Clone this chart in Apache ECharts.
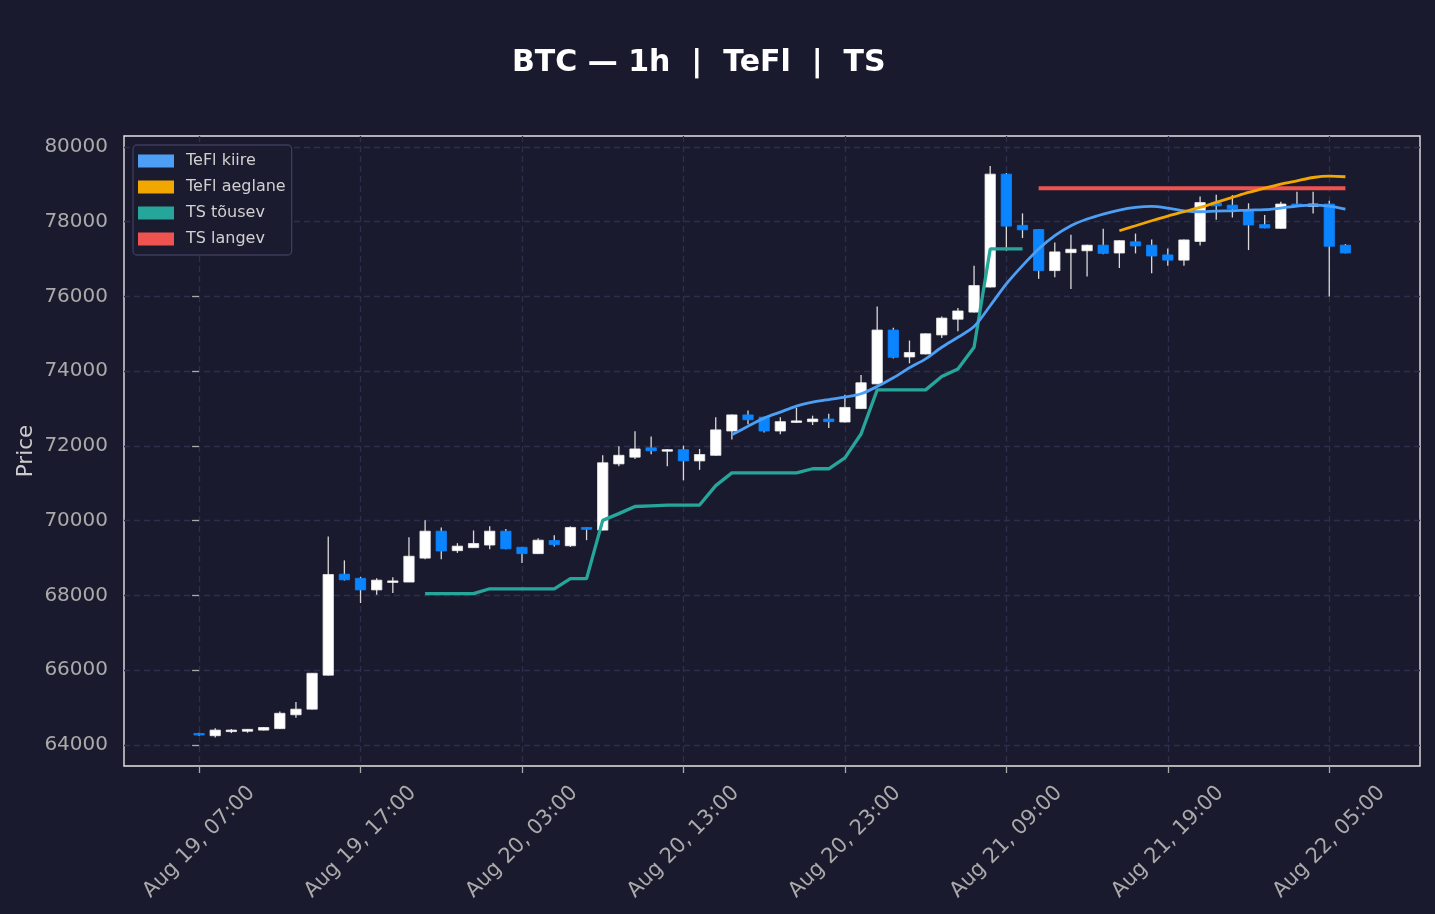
<!doctype html>
<html lang="et">
  <head>
    <meta charset="UTF-8" />
    <title>BTC — 1h | TeFl | TS</title>
    <style>
      html,
      body {
        width: 100%;
        height: 100%;
        margin: 0;
        padding: 0;
        background: #1a1a2e;
      }
      #chart {
        width: 1435px;
        height: 914px;
      }
    </style>
  </head>
  <body>
    <div id="chart"></div>
    <script src="https://cdn.jsdelivr.net/npm/echarts@6/dist/echarts.min.js"></script>
    <script>
      // tunnikünlad, Aug 19 07:00 ... Aug 22 06:00 (indeks = tund algusest)
      const opens = [
        64310, 64250, 64360, 64370, 64400, 64440, 64810, 64960, 65870, 68570,
        68460, 68150, 68370, 68360, 69000, 69720, 69200, 69280, 69350, 69720,
        69290, 69120, 69470, 69330, 69820, 69750, 71520, 71700, 71950, 71880,
        71900, 71600, 71750, 72400, 72830, 72770, 72400, 72630, 72650, 72720,
        72640, 73000, 73660, 75100, 74380, 74460, 74970, 75390, 75580, 76250,
        79270, 77900, 77790, 76690, 77170, 77220, 77370, 77160, 77460, 77370,
        77110, 76970, 77470, 78500, 78440, 78290, 77920, 77820, 78470, 78410,
        78470, 77370,
      ]
      const closes = [
        64270, 64400, 64400, 64420, 64470, 64850, 64960, 65920, 68560, 68420,
        68150, 68410, 68390, 69050, 69720, 69190, 69320, 69390, 69720, 69250,
        69120, 69480, 69360, 69820, 69770, 71550, 71750, 71920, 71870, 71900,
        71600, 71770, 72430, 72830, 72700, 72400, 72650, 72670, 72720, 72650,
        73030, 73690, 75100, 74370, 74500, 75000, 75420, 75610, 76290, 79270,
        77880, 77780, 76690, 77190, 77260, 77370, 77150, 77490, 77350, 77080,
        76970, 77510, 78510, 78420, 78340, 77910, 77830, 78470, 78410, 78470,
        77340, 77160,
      ]
      const lows = [
        64250, 64200, 64320, 64330, 64390, 64430, 64730, 64950, 65860, 68400,
        67800, 68020, 68070, 68360, 68970, 68970, 69140, 69270, 69240, 69240,
        68870, 69110, 69310, 69300, 69480, 69740, 71460, 71650, 71780, 71460,
        71080, 71360, 71740, 72170, 72580, 72360, 72310, 72620, 72560, 72480,
        72630, 72990, 73650, 74340, 74210, 74450, 74890, 75070, 75570, 76240,
        77220, 77560, 76470, 76510, 76200, 76530, 77130, 76760, 77150, 76620,
        76820, 76820, 77360, 78050, 78110, 77240, 77820, 77810, 78400, 78220,
        76000, 77150,
      ]
      const highs = [
        64330, 64450, 64430, 64430, 64480, 64900, 65150, 65930, 69580, 68940,
        68500, 68460, 68490, 69560, 70010, 69820, 69400, 69740, 69850, 69780,
        69300, 69530, 69610, 69850, 69830, 71750, 71990, 72390, 72250, 71920,
        72010, 71920, 72770, 72840, 72950, 72780, 72770, 73020, 72810, 72860,
        73370, 73900, 75730, 75160, 74820, 75010, 75460, 75690, 76820, 79490,
        79300, 78220, 77800, 77440, 77650, 77380, 77810, 77500, 77680, 77520,
        77280, 77520, 78670, 78720, 78710, 78490, 78180, 78530, 78800, 78800,
        78560, 77400,
      ]

      // TeFl kiire, algab tunnist 33
      const fastStart = 33
      const fastLine = [
        72300, 72530, 72745, 72905, 73065, 73170, 73242, 73305, 73395, 73590,
        73822, 74090, 74330, 74640, 74907, 75192, 75750, 76333, 76822, 77267,
        77623, 77890, 78069, 78203, 78310, 78380, 78407, 78363, 78290, 78264,
        78282, 78290, 78310, 78320, 78363, 78416, 78443, 78416, 78336,
      ]
      // TeFl aeglane, algab tunnist 57
      const slowStart = 57
      const slowLine = [
        77756, 77890, 78023, 78149, 78264, 78380, 78513, 78647, 78780, 78897,
        79004, 79092, 79180, 79217, 79200,
      ]
      // TS tõusev, tunnid 14..51
      const upStart = 14
      const tsUp = [
        68050, 68050, 68050, 68050, 68180, 68180, 68180, 68180, 68180, 68450,
        68450, 70010, 70190, 70380, 70400, 70420, 70420, 70420, 70940, 71280,
        71280, 71280, 71280, 71280, 71390, 71390, 71680, 72320, 73500, 73500,
        73500, 73500, 73860, 74060, 74640, 77270, 77270, 77270,
      ]
      // TS langev, tunnid 52..71
      const downStart = 52
      const tsDown = [
        78890, 78890, 78890, 78890, 78890, 78890, 78890, 78890, 78890, 78890,
        78890, 78890, 78890, 78890, 78890, 78890, 78890, 78890, 78890, 78890,
      ]

      const tickHours = [0, 10, 20, 30, 40, 50, 60, 70]
      const tickLabels = [
        'Aug 19, 07:00',
        'Aug 19, 17:00',
        'Aug 20, 03:00',
        'Aug 20, 13:00',
        'Aug 20, 23:00',
        'Aug 21, 09:00',
        'Aug 21, 19:00',
        'Aug 22, 05:00',
      ]
      const priceTicks = [64000, 66000, 68000, 70000, 72000, 74000, 76000, 78000, 80000]

      const upColor = '#ffffff'
      const downColor = '#0a84ff'
      const wickColor = '#d9d9d9'
      const gridColor = '#2e2e4c'
      const font = 'DejaVu Sans'

      const toPoints = (start, arr) => arr.map((v, k) => [start + k, v])
      const candleData = opens.map((o, i) => [i, o, closes[i], lows[i], highs[i]])

      function renderCandle(params, api) {
        const i = api.value(0)
        const o = api.value(1)
        const c = api.value(2)
        const top = api.coord([i, api.value(4)])
        const bottom = api.coord([i, api.value(3)])
        const pO = api.coord([i, o])
        const pC = api.coord([i, c])
        const w = api.size([1, 0])[0] * 0.64
        const up = c >= o
        const y0 = Math.min(pO[1], pC[1])
        const h = Math.max(Math.abs(pO[1] - pC[1]), 1.5)
        return {
          type: 'group',
          children: [
            {
              type: 'line',
              shape: { x1: top[0], y1: top[1], x2: bottom[0], y2: bottom[1] },
              style: { stroke: wickColor, lineWidth: 1.3 },
            },
            {
              type: 'rect',
              shape: { x: top[0] - w / 2, y: y0, width: w, height: h },
              style: {
                fill: up ? upColor : downColor,
                stroke: up ? '#eeeeee' : downColor,
                lineWidth: 0.8,
              },
            },
          ],
        }
      }

      const chart = echarts.init(document.getElementById('chart'))
      const option = {
        backgroundColor: '#1a1a2e',
        animation: false,
        textStyle: { fontFamily: font },
        title: {
          text: 'BTC — 1h  |  TeFl  |  TS',
          left: 512,
          top: 48,
          padding: 0,
          textStyle: {
            color: '#ffffff',
            fontSize: 30,
            fontWeight: 'bold',
            fontFamily: font,
          },
        },
        legend: {
          orient: 'vertical',
          left: 133,
          top: 145,
          padding: [8, 6, 8, 5],
          itemGap: 10,
          itemWidth: 36,
          itemHeight: 13,
          icon: 'rect',
          backgroundColor: '#1b1b30',
          borderColor: '#3c3c5c',
          borderWidth: 1.3,
          borderRadius: 4,
          data: ['TeFl kiire', 'TeFl aeglane', 'TS tõusev', 'TS langev'],
          textStyle: {
            color: '#d0d0d0',
            fontSize: 16,
            fontFamily: font,
            padding: [0, 0, 0, 7],
          },
        },
        grid: {
          left: 124,
          right: 15,
          top: 136,
          bottom: 148,
          show: true,
          backgroundColor: '#1a1a2e',
          borderColor: '#e4e4e4',
          borderWidth: 1.4,
        },
        xAxis: {
          type: 'value',
          min: -4.65,
          max: 75.62,
          axisLine: { show: false },
          axisTick: {
            show: true,
            length: 7,
            customValues: tickHours,
            lineStyle: { color: '#aaaaaa', width: 1.3 },
          },
          axisLabel: {
            customValues: tickHours,
            rotate: 45,
            align: 'center',
            verticalAlign: 'middle',
            margin: 76,
            color: '#aaaaaa',
            fontSize: 21,
            fontFamily: font,
            formatter: (v) => tickLabels[tickHours.indexOf(Math.round(v))] || '',
          },
          splitLine: {
            show: true,
            lineStyle: { color: gridColor, type: [6, 4], width: 1.3 },
          },
        },
        yAxis: {
          type: 'value',
          min: 63440,
          max: 80290,
          splitNumber: 8,
          name: 'Price',
          nameLocation: 'middle',
          nameGap: 87,
          nameMoveOverlap: false,
          nameTextStyle: { color: '#cccccc', fontSize: 21.5, fontFamily: font },
          axisLine: { show: false },
          axisTick: {
            show: true,
            length: 7,
            customValues: priceTicks,
            lineStyle: { color: '#aaaaaa', width: 1.3 },
          },
          axisLabel: {
            customValues: priceTicks,
            margin: 16,
            color: '#aaaaaa',
            fontSize: 20,
            fontFamily: font,
            formatter: (v) => String(v),
          },
          splitLine: {
            show: true,
            lineStyle: { color: gridColor, type: [6, 4], width: 1.3 },
          },
        },
        series: [
          {
            name: 'BTC',
            type: 'custom',
            renderItem: renderCandle,
            encode: { x: 0, y: [1, 2, 3, 4] },
            data: candleData,
            z: 2,
          },
          {
            name: 'TeFl kiire',
            type: 'line',
            data: toPoints(fastStart, fastLine),
            smooth: 0.3,
            showSymbol: false,
            color: '#4d9ff5',
            lineStyle: { width: 2.8, color: '#4d9ff5' },
            z: 4,
          },
          {
            name: 'TeFl aeglane',
            type: 'line',
            data: toPoints(slowStart, slowLine),
            smooth: 0.3,
            showSymbol: false,
            color: '#f2a600',
            lineStyle: { width: 2.8, color: '#f2a600' },
            z: 4,
          },
          {
            name: 'TS tõusev',
            type: 'line',
            data: toPoints(upStart, tsUp),
            showSymbol: false,
            color: '#26a69a',
            lineStyle: { width: 3.3, color: '#26a69a' },
            z: 3,
          },
          {
            name: 'TS langev',
            type: 'line',
            data: toPoints(downStart, tsDown),
            showSymbol: false,
            color: '#ef5350',
            lineStyle: { width: 4, color: '#ef5350' },
            z: 3,
          },
        ],
      }
      chart.setOption(option)
    </script>
  </body>
</html>
